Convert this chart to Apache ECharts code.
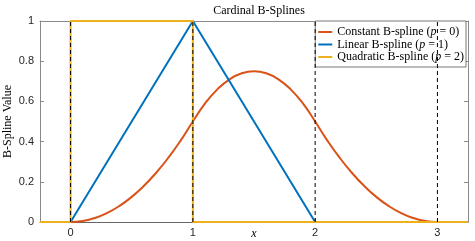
<!DOCTYPE html>
<html><head><meta charset="utf-8">
<script src="https://cdn.jsdelivr.net/npm/echarts@6/dist/echarts.min.js"></script>
<style>html,body{margin:0;padding:0;background:#fff}#c{width:475px;height:241px}</style>
</head><body><div id="c"></div>
<script>
var quadX = [0,0.1,0.2,0.3,0.4,0.5,0.6,0.7,0.8,0.9,1,1.1,1.2,1.3,1.4,1.5,1.6,1.7,1.8,1.9,2,2.1,2.2,2.3,2.4,2.5,2.6,2.7,2.8,2.9,3];
var quadY = [0,0.005,0.02,0.045,0.08,0.125,0.18,0.245,0.32,0.405,0.5,0.59,0.66,0.71,0.74,0.75,0.74,0.71,0.66,0.59,0.5,0.405,0.32,0.245,0.18,0.125,0.08,0.045,0.02,0.005,0];
// Blue hat
var hatX = [-0.25,0,1,2,3.25];
var hatY = [0,0,1,0,0];
// Yellow box
var boxX = [-0.25,0,0,1,1,3.25];
var boxY = [0,0,1,1,0,0];
// Knots (dashed lines)
var knots = [0,1,2,3];
var xTicks = [0,1,2,3];
var yTicks = [0,0.2,0.4,0.6,0.8,1];
var legendNames = ['Constant B-spline (p = 0)','Linear B-spline (p = 1)','Quadratic B-spline (p = 2)'];
var legendParts = [['Constant B-spline (','p',' = 0)'],['Linear B-spline (','p',' = 1)'],['Quadratic B-spline (','p',' = 2)']];

function zip(xs, ys){ return xs.map(function(x,i){return [x, ys[i]];}); }
var serif = '"Liberation Serif", "DejaVu Serif", serif';
var sans = '"Liberation Sans", Arial, sans-serif';
var axisCol = '#8a8a8a';

var series = [
  {name: legendNames[0], type:'line', data: zip(quadX, quadY), smooth:true, showSymbol:false, symbol:'none',
   lineStyle:{color:'#D95319', width:2}, itemStyle:{color:'#D95319'}, z:2},
  {name: legendNames[1], type:'line', data: zip(hatX, hatY), showSymbol:false, symbol:'none',
   lineStyle:{color:'#0072BD', width:2}, itemStyle:{color:'#0072BD'}, z:3},
  {name: legendNames[2], type:'line', data: zip(boxX, boxY), showSymbol:false, symbol:'none',
   lineStyle:{color:'#EDB120', width:2}, itemStyle:{color:'#EDB120'}, z:4}
];
knots.forEach(function(k){
  series.push({type:'line', data:[[k,0],[k,1]], showSymbol:false, symbol:'none', silent:true,
    lineStyle:{color:'#000', width:1, type:[4,3]}, z:5});
});

var chart = echarts.init(document.getElementById('c'), null, {renderer:'canvas'});
chart.setOption({
  animation:false,
  backgroundColor:'#fff',
  title:{text:'Cardinal B-Splines', left:254, textAlign:'center', top:0,
    textStyle:{fontFamily:serif, fontSize:12, fontWeight:'normal', color:'#000'}},
  grid:{left:40, right:7, top:21, bottom:19, containLabel:false, outerBoundsMode:'none'},
  legend:{data:legendNames, orient:'vertical', right:9, top:21, itemWidth:14, itemHeight:2, itemGap:0.5,
    padding:[5,2,4,3], backgroundColor:'#fff', borderColor:'#555', borderWidth:0.8, borderRadius:0,
    icon:'rect', selectedMode:false,
    formatter:function(name){ var i = legendNames.indexOf(name); var p = legendParts[i];
      return '{a|'+p[0]+'}{i|'+p[1]+'}{a|'+p[2]+'}'; },
    textStyle:{fontFamily:serif, fontSize:12, color:'#000', lineHeight:11.5,
      rich:{a:{fontFamily:serif, fontSize:12, color:'#000', lineHeight:11.5},
            i:{fontFamily:serif, fontSize:12, fontStyle:'italic', color:'#000', lineHeight:11.5}}}
  },
  xAxis:[{type:'value', min:-0.25, max:3.25, position:'bottom',
    name:'x', nameLocation:'middle', nameGap:6, nameMoveOverlap:false,
    nameTextStyle:{fontFamily:serif, fontStyle:'italic', fontSize:12, color:'#000'},
    axisLine:{show:true, onZero:false, lineStyle:{color:'#666', width:1}},
    axisTick:{show:true, inside:true, length:4, customValues:xTicks, lineStyle:{color:'#666'}},
    axisLabel:{customValues:xTicks, fontFamily:sans, fontSize:11, color:'#262626', margin:5},
    splitLine:{show:false}},
   {type:'value', min:-0.25, max:3.25, position:'top',
    axisLine:{show:true, onZero:false, lineStyle:{color:axisCol, width:1}},
    axisTick:{show:true, inside:true, length:4, customValues:xTicks, lineStyle:{color:axisCol}},
    axisLabel:{show:false}, splitLine:{show:false}}],
  yAxis:[{type:'value', min:0, max:1, interval:0.2, position:'left',
    name:'B-Spline Value', nameLocation:'middle', nameGap:26, nameMoveOverlap:false,
    nameTextStyle:{fontFamily:serif, fontSize:12, color:'#000'},
    axisLine:{show:true, onZero:false, lineStyle:{color:axisCol, width:1}},
    axisTick:{show:true, inside:true, length:4, lineStyle:{color:axisCol}},
    axisLabel:{fontFamily:sans, fontSize:11, color:'#262626', margin:6,
      formatter:function(v){ return String(Math.round(v*10)/10); }},
    splitLine:{show:false}},
   {type:'value', min:0, max:1, interval:0.2, position:'right',
    axisLine:{show:true, onZero:false, lineStyle:{color:axisCol, width:1}},
    axisTick:{show:true, inside:true, length:4, lineStyle:{color:axisCol}},
    axisLabel:{show:false}, splitLine:{show:false}}],
  series: series
});
</script></body></html>
